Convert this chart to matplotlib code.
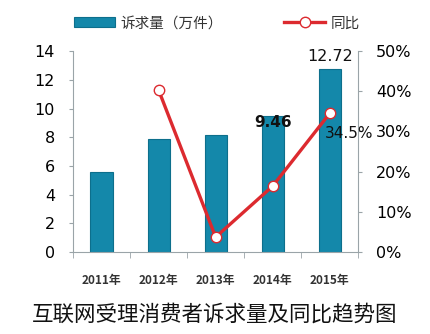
import matplotlib.pyplot as plt
import numpy as np
from matplotlib.ticker import FuncFormatter

plt.rcParams['font.family'] = ['DejaVu Sans', 'Noto Sans CJK SC']

# Données
years = ['2011年', '2012年', '2013年', '2014年', '2015年']
volume = [5.6, 7.84, 8.13, 9.46, 12.72]          # 诉求量（万件）
growth = [None, 40.3, 3.7, 16.4, 34.5]            # 同比 (%)

bar_color = '#1488aa'
line_color = '#dc2a2f'
spine_color = '#9aa4a8'

fig = plt.figure(figsize=(4.30, 3.34), dpi=100)
ax = fig.add_axes([0.170, 0.2455, 0.663, 0.6015])
x = np.arange(len(years))

bars = ax.bar(x, volume, width=0.39, color=bar_color, edgecolor='#0d6f8c',
              linewidth=0.8, label='诉求量（万件）', zorder=2)
ax.set_xlim(-0.5, len(years) - 0.5)
ax.set_ylim(0, 14)
ax.set_yticks(range(0, 15, 2))
ax.set_xticks(x)
ax.set_xticklabels(years, fontsize=8.5, fontweight='bold', color='#333333',
                   family=['Noto Sans CJK SC'])
ax.tick_params(axis='x', length=0, pad=16)
ax.set_xticks(np.arange(-0.5, len(years), 1), minor=True)
ax.tick_params(axis='x', which='minor', length=4, direction='out', color=spine_color)
ax.tick_params(axis='y', labelsize=11.5, length=3, color=spine_color, pad=10)
for s in ['top', 'right']:
    ax.spines[s].set_visible(False)
for s in ['left', 'bottom']:
    ax.spines[s].set_color(spine_color)

ax2 = ax.twinx()
gx = [i for i, g in enumerate(growth) if g is not None]
gy = [g for g in growth if g is not None]
ax2.plot(gx, gy, color=line_color, linewidth=2.4, marker='o', markersize=7.5,
         markerfacecolor='white', markeredgecolor=line_color, markeredgewidth=1.0,
         label='同比', zorder=3)
ax2.set_ylim(0, 50)
ax2.set_yticks(range(0, 51, 10))
ax2.yaxis.set_major_formatter(FuncFormatter(lambda v, p: f'{v:.0f}%'))
ax2.tick_params(axis='y', labelsize=11.5, length=3, color=spine_color, pad=10)
for s in ['top', 'left', 'bottom']:
    ax2.spines[s].set_visible(False)
ax2.spines['right'].set_color(spine_color)

# Annotations
ax.text(3, volume[3] + 0.1, f'{volume[3]:.2f}', ha='center', va='top',
        fontsize=11, fontweight='bold', color='#111111', zorder=5)
ax.text(4, volume[4] + 0.35, f'{volume[4]:.2f}', ha='center', va='bottom',
        fontsize=11.5, color='#111111', zorder=5)
ax2.text(4.34, growth[4] - 3.2, f'{growth[4]}%', ha='center', va='top',
         fontsize=11, color='#111111', zorder=5, clip_on=False)

# Légende
h1, l1 = ax.get_legend_handles_labels()
h2, l2 = ax2.get_legend_handles_labels()
leg = fig.legend(h1 + h2, l1 + l2, loc='center', bbox_to_anchor=(0.505, 0.93),
                 ncol=2, frameon=False, handlelength=2.8, handletextpad=0.4,
                 columnspacing=4.2, prop={'family': ['Noto Sans CJK SC'], 'size': 10.5})
for t in leg.get_texts():
    t.set_color('#333333')

fig.text(0.5, 0.057, '互联网受理消费者诉求量及同比趋势图', ha='center', va='center',
         fontsize=15.5, family=['Noto Sans CJK SC'], color='#111111')

fig.savefig('out.png', dpi=100)
